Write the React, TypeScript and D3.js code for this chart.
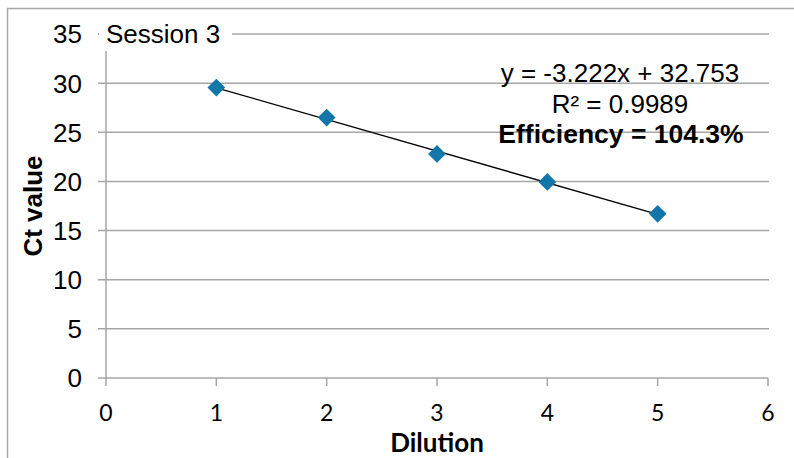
import React from "react";
import * as d3 from "d3";

const dilution = [1, 2, 3, 4, 5];
const ctValues = [29.55, 26.5, 22.8, 19.95, 16.7];
const slope = -3.222;
const intercept = 32.753;
const xTicks = [0, 1, 2, 3, 4, 5, 6];
const yTicks = [0, 5, 10, 15, 20, 25, 30, 35];
const labelLines = ["y = -3.222x + 32.753", "R² = 0.9989"];
const efficiencyLabel = "Efficiency = 104.3%";
const title = "Session 3";

const App = () => {
  const width = 794;
  const height = 458;
  const x = d3.scaleLinear().domain([0, 6]).range([106, 768]);
  const y = d3.scaleLinear().domain([0, 35]).range([378, 34]);
  const grid = "#a6a6a6";
  const arial = "'Liberation Sans', Arial, sans-serif";
  const calibri = "Lato, 'Open Sans', sans-serif";

  const trend = d3
    .line<number>()
    .x((d) => x(d))
    .y((d) => y(slope * d + intercept));
  const diamond = d3.symbol().type(d3.symbolDiamond2).size(200)();

  return (
    <svg
      width={width}
      height={height}
      style={{ position: "absolute", left: 0, top: 0, background: "#fff" }}
    >
      <rect x={7.5} y={8.5} width={800} height={470} fill="#fff" stroke={grid} strokeWidth={1.5} />

      {/* horizontal gridlines + y ticks */}
      {yTicks.map((t) => (
        <g key={t}>
          <line x1={98} x2={t === 0 ? 768 : 769} y1={y(t)} y2={y(t)} stroke={grid} strokeWidth={1.5} />
          <text
            x={82}
            y={y(t)}
            dy="0.36em"
            textAnchor="end"
            fontFamily={arial}
            fontSize={26}
            fill="#000"
          >
            {t}
          </text>
        </g>
      ))}

      {/* y axis */}
      <line x1={x(0)} x2={x(0)} y1={y(35)} y2={y(0)} stroke={grid} strokeWidth={1.5} />

      {/* x ticks */}
      {xTicks.map((t) => (
        <g key={t}>
          <line x1={x(t)} x2={x(t)} y1={y(0)} y2={y(0) + 8} stroke={grid} strokeWidth={1.5} />
          <text
            x={x(t)}
            y={413}
            dy="0.36em"
            textAnchor="middle"
            fontFamily={calibri}
            fontSize={23}
            fill="#000"
          >
            {t}
          </text>
        </g>
      ))}

      {/* title box */}
      <rect x={99} y={17} width={133} height={34} fill="#fff" />
      <text x={106} y={43} fontFamily={arial} fontSize={26} fill="#000">
        {title}
      </text>

      {/* trendline */}
      <path d={trend([dilution[0], dilution[dilution.length - 1]]) || ""} stroke="#000" strokeWidth={1.3} fill="none" />

      {/* points */}
      {dilution.map((d, i) => (
        <path
          key={d}
          d={diamond || ""}
          transform={`translate(${x(d)},${y(ctValues[i])})`}
          fill="#1077A8"
        />
      ))}

      {/* equation label */}
      {labelLines.map((l, i) => (
        <text
          key={l}
          x={620}
          y={82 + i * 31}
          textAnchor="middle"
          fontFamily={arial}
          fontSize={26}
          fill="#000"
        >
          {l}
        </text>
      ))}
      <text x={621} y={143} textAnchor="middle" fontFamily={arial} fontSize={26.5} fontWeight="bold" fill="#000">
        {efficiencyLabel}
      </text>

      {/* axis titles */}
      <text
        transform={`translate(42,206) rotate(-90)`}
        textAnchor="middle"
        fontFamily={arial}
        fontSize={26}
        fontWeight="bold"
        fill="#000"
      >
        Ct value
      </text>
      <text x={437} y={452} textAnchor="middle" fontFamily={calibri} fontSize={26} fontWeight="bold" fill="#000">
        Dilution
      </text>
    </svg>
  );
};

export default App;
